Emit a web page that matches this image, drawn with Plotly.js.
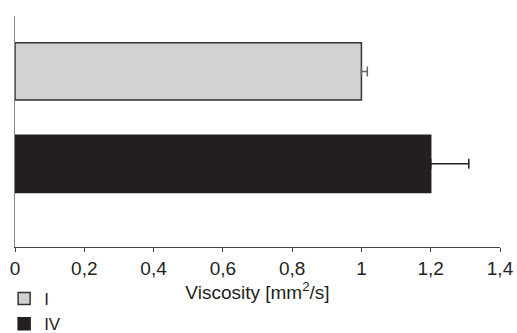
<!DOCTYPE html>
<html>
<head>
<meta charset="utf-8">
<script src="https://cdn.plot.ly/plotly-3.0.1.min.js"></script>
<style>html,body{margin:0;padding:0;background:#fff;}#chart{width:517px;height:333px;}</style>
</head>
<body>
<div id="chart"></div>
<script>
const categories = ['I', 'IV'];
const viscosity = [1.0, 1.2];
const errors = [0.017, 0.11];
const tickValues = [0, 0.2, 0.4, 0.6, 0.8, 1, 1.2, 1.4];
const tickLabels = ['0', '0,2', '0,4', '0,6', '0,8', '1', '1,2', '1,4'];
const fills = ['#d1d2d4', '#231f20'];
const outlines = ['#333333', '#231f20'];
const errColors = ['#666666', '#231f20'];

const traces = categories.map((c, i) => ({
  type: 'bar',
  orientation: 'h',
  name: c,
  y: [c],
  x: [viscosity[i]],
  width: 0.62,
  marker: {color: fills[i], line: {color: outlines[i], width: 1.5}},
  error_x: {type: 'data', symmetric: false, array: [errors[i]], arrayminus: [0], visible: true, color: errColors[i], thickness: 1.5, width: 5},
  hoverinfo: 'none'
}));

const font = {family: 'Liberation Sans, Arial, sans-serif', size: 19, color: '#231f20'};
const legendFont = {family: 'Liberation Sans, Arial, sans-serif', size: 17, color: '#231f20'};

const layout = {
  width: 517, height: 333,
  margin: {l: 15, r: 17, t: 16, b: 86, autoexpand: false},
  paper_bgcolor: '#fff', plot_bgcolor: '#fff',
  font: font,
  separators: ', ',
  barmode: 'overlay',
  showlegend: true,
  legend: {xref: 'container', yref: 'container', x: 0.008, y: 0.156, xanchor: 'left', yanchor: 'top', font: legendFont, bgcolor: 'rgba(0,0,0,0)', tracegroupgap: 0},
  xaxis: {
    range: [0, 1.4], tickvals: tickValues, ticktext: tickLabels,
    showline: true, linecolor: '#444', linewidth: 1,
    ticks: 'outside', ticklen: 4, tickcolor: '#444', tickwidth: 1,
    showgrid: false, zeroline: false, automargin: false,
    tickfont: font,
    title: {text: 'Viscosity [mm<sup>2</sup>/s]', font: font, standoff: 4}
  },
  xaxis2: {
    overlaying: 'x', matches: 'x', anchor: 'y', side: 'bottom',
    range: [0, 1.4], tickvals: tickValues, showticklabels: false,
    ticks: 'inside', ticklen: 4, tickcolor: '#444', tickwidth: 1,
    showgrid: false, zeroline: false, showline: false
  },
  yaxis: {
    type: 'category', categoryorder: 'array', categoryarray: categories,
    range: [1.9, -0.6], autorange: false, automargin: false,
    showline: true, linecolor: '#888', linewidth: 1.5,
    ticks: '', showticklabels: false, showgrid: false, zeroline: false
  }
};

Plotly.newPlot('chart', traces, layout, {displayModeBar: false, staticPlot: true});
</script>
</body>
</html>
